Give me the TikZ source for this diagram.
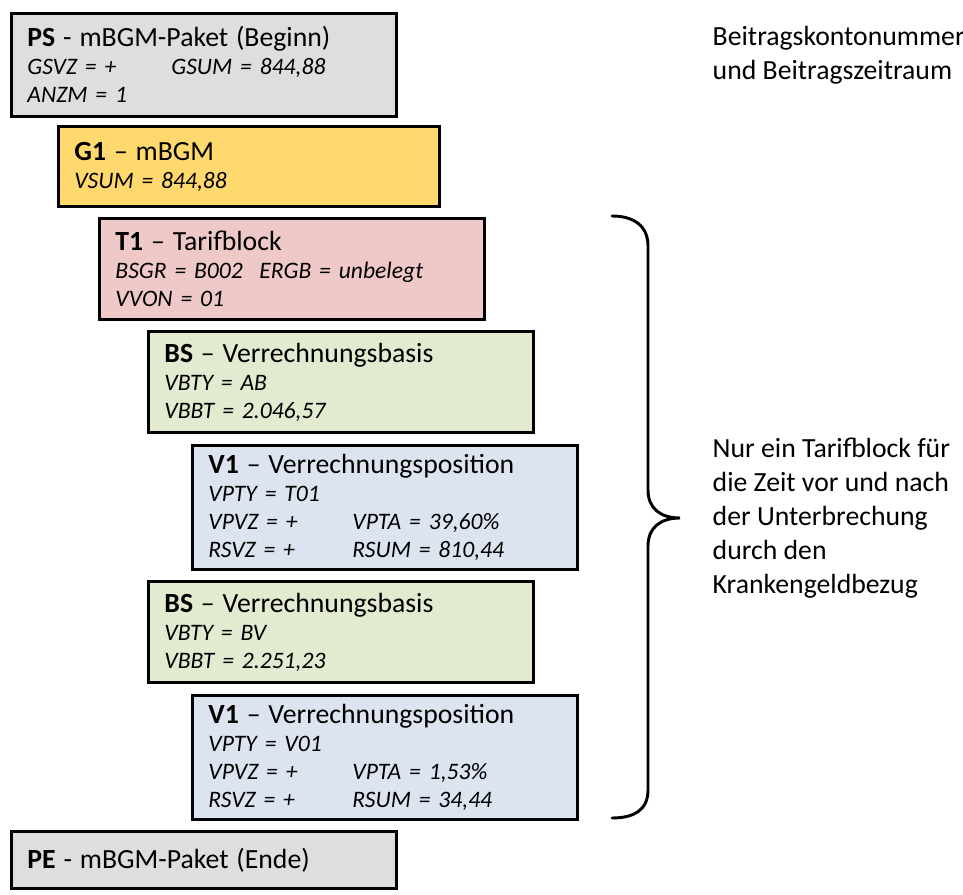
\documentclass[tikz,border=0pt]{standalone}
\usepackage{fontspec}
\setmainfont{Carlito}
\usepackage{tikz}
\usetikzlibrary{positioning}
\definecolor{mbgmgray}{RGB}{222,222,222}
\definecolor{mbgmgold}{RGB}{255,217,110}
\definecolor{mbgmrose}{RGB}{238,201,200}
\definecolor{mbgmolive}{RGB}{226,234,207}
\definecolor{mbgmblue}{RGB}{220,228,240}
\newcommand{\kopf}[2]{{\fontsize{20.8}{21}\selectfont\upshape\textbf{#1} #2}}
\newcommand{\fld}[2]{\makebox[108pt][l]{#1}#2}

\begin{document}
\begin{tikzpicture}[
        x=0.75pt, y=-0.75pt,
        satz/.style={draw, line width=2.2pt, anchor=north west,
                     text width=265pt, inner xsep=12pt, align=left,
                     font=\fontsize{17.7}{21}\selectfont\itshape},
        note/.style={anchor=west, align=left,
                     font=\fontsize{20.8}{25.5}\selectfont},
        brace/.style={line width=2.2pt, line cap=round},
    ]
        \useasboundingbox (0,0) rectangle (963,895);

        % Nodes
        \node[satz, fill=mbgmgray, minimum height=77pt] (ps) at (10,12)
              {\kopf{PS}{- mBGM-Paket (Beginn)}\\
               \fld{GSVZ = +}{GSUM = 844,88}\\
               ANZM = 1};
        \node[satz, fill=mbgmgold, minimum height=60pt, text width=262pt] (g1) at (57,125)
              {\kopf{G1}{– mBGM}\\
               VSUM = 844,88};
        \node[satz, fill=mbgmrose, minimum height=76pt] (t1) at (98,217)
              {\kopf{T1}{– Tarifblock}\\
               \fld{BSGR = B002}{ERGB = unbelegt}\\
               VVON = 01};
        \node[satz, fill=mbgmolive, minimum height=76pt] (bsab) at (147,330)
              {\kopf{BS}{– Verrechnungsbasis}\\
               VBTY = AB\\
               VBBT = 2.046,57};
        \node[satz, fill=mbgmblue, minimum height=93pt] (vpt) at (191,444)
              {\kopf{V1}{– Verrechnungsposition}\\
               VPTY = T01\\
               \fld{VPVZ = +}{VPTA = 39,60\%}\\
               \fld{RSVZ = +}{RSUM = 810,44}};
        \node[satz, fill=mbgmolive, minimum height=76pt] (bsbv) at (147,580)
              {\kopf{BS}{– Verrechnungsbasis}\\
               VBTY = BV\\
               VBBT = 2.251,23};
        \node[satz, fill=mbgmblue, minimum height=93pt] (vpv) at (191,694)
              {\kopf{V1}{– Verrechnungsposition}\\
               VPTY = V01\\
               \fld{VPVZ = +}{VPTA = 1,53\%}\\
               \fld{RSVZ = +}{RSUM = 34,44}};
        \node[satz, fill=mbgmgray, minimum height=43pt] (pe) at (10,830)
              {\kopf{PE}{- mBGM-Paket (Ende)}};

        \node[note] (konto) at (708,55)
              {Beitragskontonummer\\und Beitragszeitraum};

        % Brace
        \coordinate (brtop) at (612,216);
        \coordinate (brtip) at (680,518);
        \coordinate (brbot) at (612,818);
        \draw[brace] (brtop) .. controls +(22,0) and +(0,-20) .. (648,246)
              -- (648,490) .. controls +(0,18) and +(-20,0) .. (brtip)
              .. controls +(-20,0) and +(0,-18) .. (648,546)
              -- (648,790) .. controls +(0,20) and +(22,0) .. (brbot);
        \node[note, right=21pt of brtip] (hinweis)
              {Nur ein Tarifblock für\\die Zeit vor und nach\\der Unterbrechung\\durch den\\Krankengeldbezug};
    \end{tikzpicture}
\end{document}
